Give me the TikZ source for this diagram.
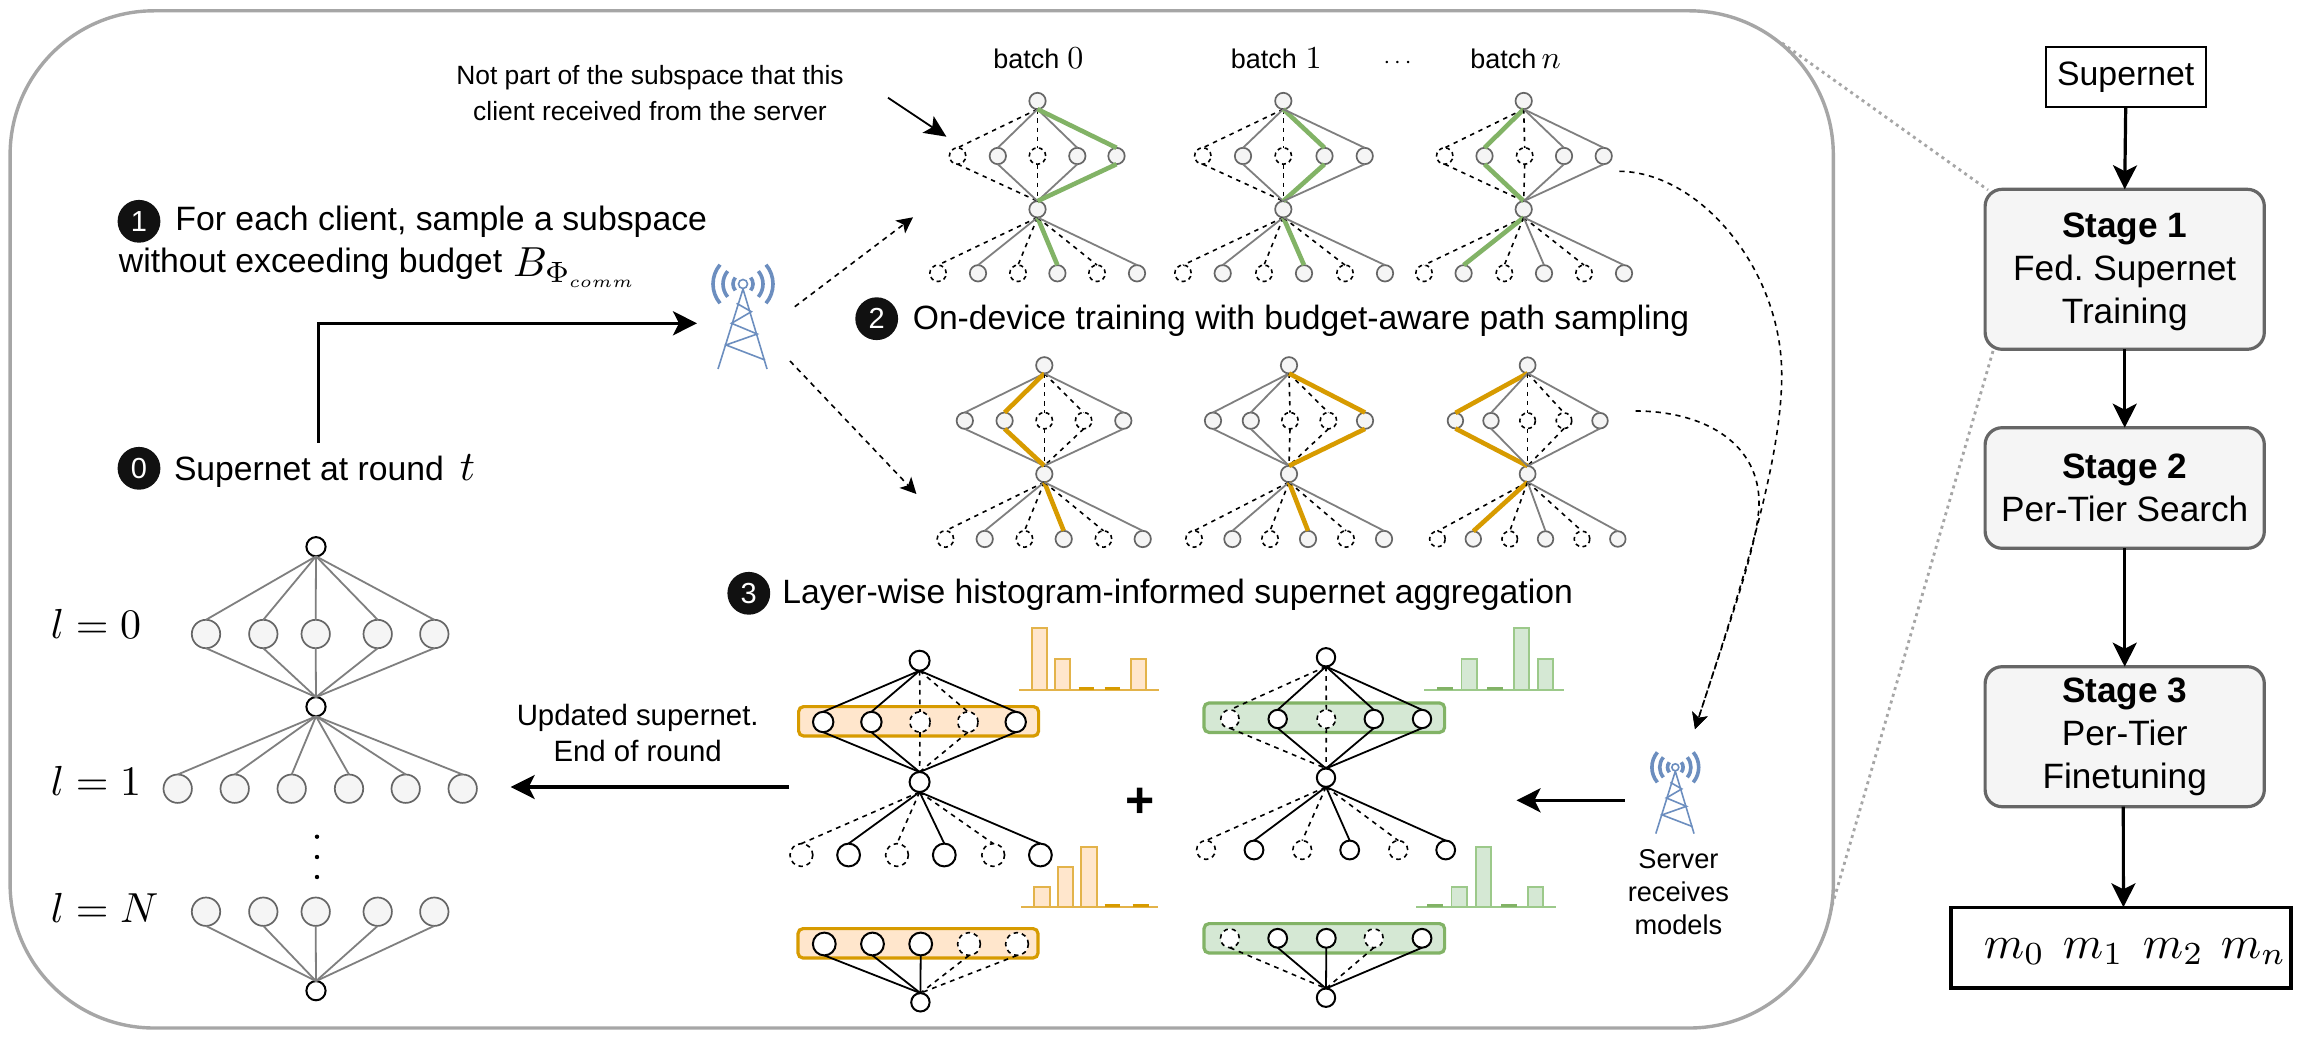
\documentclass[tikz,border=0pt]{standalone}
\usepackage[no-math]{fontspec}
\setmainfont{Liberation Sans}
\usetikzlibrary{arrows.meta}
\definecolor{gEdge}{HTML}{7F7F7F}
\definecolor{gNode}{HTML}{666666}
\definecolor{gFill}{HTML}{F5F5F5}
\definecolor{panelG}{HTML}{A6A6A6}
\definecolor{hlGreen}{HTML}{82B366}
\definecolor{hlOrange}{HTML}{D79B00}
\definecolor{fillGreen}{HTML}{D5E8D4}
\definecolor{fillOrange}{HTML}{FFE6CC}
\definecolor{barOrange}{HTML}{E3B34A}
\definecolor{barGreen}{HTML}{9CC98A}
\definecolor{towerB}{HTML}{6C8EBF}
\definecolor{ink}{HTML}{111111}
\tikzset{
  cnode/.style={circle,inner sep=0pt,outer sep=0pt},
  nds/.style={cnode,draw=gNode,fill=gFill,line width=0.85pt},
  ndg/.style={nds},
  ndo/.style={nds},
  ndd/.style={cnode,draw=black,fill=white,line width=0.8pt,dash pattern=on 2pt off 1.7pt},
  ndb/.style={cnode,draw=black,fill=white,line width=1pt},
  ndk/.style={cnode,draw=black,fill=white,line width=0.8pt,dash pattern=on 2.2pt off 2pt},
  eds/.style={draw=gEdge,line width=0.9pt},
  edd/.style={draw=black,line width=0.8pt,dash pattern=on 2.2pt off 2.4pt},
  edg/.style={draw=hlGreen,line width=2.3pt},
  edo/.style={draw=hlOrange,line width=2.3pt},
  edb/.style={draw=black,line width=0.9pt},
  edk/.style={draw=black,line width=0.8pt,dash pattern=on 2.4pt off 2.4pt},
  bigarr/.style={-{Stealth[length=12pt,width=12pt,inset=3pt]},line width=1.6pt,draw=black},
  dasharr/.style={-{Stealth[length=8pt,width=8pt,inset=2pt]},draw=black,line width=0.8pt,dash pattern=on 2.6pt off 2.4pt},
  txt/.style={inner sep=0pt,anchor=base west,text=black},
  ctxt/.style={inner sep=0pt,anchor=base,text=black},
  mth/.style={inner sep=0pt,anchor=base west,scale=#1},
  badge/.style={circle,fill=ink,text=white,inner sep=0pt,minimum size=21.4pt,font=\fontsize{14.5}{16}\selectfont},
  stagebox/.style={draw=gNode,fill=gFill,line width=1.6pt,rounded corners=8.5pt,inner sep=0pt,outer sep=0pt,align=center,font=\fontsize{17.6}{21.5}\selectfont},
  orangebox/.style={draw=hlOrange,fill=fillOrange,line width=1.6pt,rounded corners=2.5pt,inner sep=0pt,outer sep=0pt},
  greenbox/.style={draw=hlGreen,fill=fillGreen,line width=1.6pt,rounded corners=2.5pt,inner sep=0pt,outer sep=0pt},
  dotline/.style={draw=panelG,line width=1.4pt,dash pattern=on 1.5pt off 2pt},
  towerline/.style={draw=towerB,line width=0.8pt},
  towerwave/.style={draw=towerB,line width=1.8pt},
}
% a row of network nodes with edges to the hub above and/or below
\newcommand{\netrow}[6]{%
  \foreach \rowx/\rowt [count=\rowi] in {#6}{%
    \node[nd\rowt,minimum size=#3] (#1\rowi) at (\rowx,#2) {};
    \ifx\relax#4\relax\else\draw[ed\rowt] (#4.south) -- (#1\rowi.north);\fi
    \ifx\relax#5\relax\else\draw[ed\rowt] (#1\rowi.south) -- (#5.north);\fi
  }%
}
% small transmitter tower: dot at (x,y), scale s
\newcommand{\towerpic}[3]{%
  \begin{scope}[shift={(#1,#2)},scale=#3]
    \draw[towerline] (-25,85) -- (0,5) -- (24,85);
    \draw[towerline] (-6.4,19.3) -- (8.3,27.7) -- (-11.5,39.3) -- (14.2,50) -- (-17,61) -- (22,76);
    \draw[towerline,fill=white] (0,0) circle[radius=4.5];
    \foreach \a in {10,20,30}{%
      \draw[towerwave] (-40:\a) arc[start angle=-40,end angle=40,radius=\a];
      \draw[towerwave] (140:\a) arc[start angle=140,end angle=220,radius=\a];
    }
  \end{scope}%
}
% histogram: colour, x0, fill, x1, baseline, list of x1/x2/top
\newcommand{\histo}[6]{%
  \foreach \ba/\bb/\bt in {#6}{%
    \draw[draw=#1,fill=#3,line width=0.9pt] (\ba,#5) rectangle (\bb,\bt);
  }
  \draw[draw=#1,line width=1.1pt] (#2,#5) -- (#4,#5);
}
\begin{document}
\begin{tikzpicture}[x=0.5pt,y=-0.5pt]
\useasboundingbox (0,0) rectangle (2301,1043);
\fill[white] (0,0) rectangle (2301,1043);

% ---- panel and zoom lines
\node[draw=panelG,line width=1.7pt,rounded corners=72pt,inner sep=0pt,outer sep=0pt,minimum width=911.6pt,minimum height=508.6pt] (panel) at (921.7,519.4) {};
\coordinate (zoomA) at (1782,43);
\coordinate (zoomB) at (1988,190);
\coordinate (zoomC) at (1993,351);
\coordinate (zoomD) at (1830,913);
\draw[dotline] (zoomA) -- (zoomB);
\draw[dotline] (zoomC) -- (zoomD);

% ---- right column
\node[draw=black,line width=0.9pt,inner sep=0pt,outer sep=0pt,minimum width=80pt,minimum height=30pt,font=\fontsize{16.9}{20}\selectfont] (super) at (2125.7,77.3) {Supernet};
\node[stagebox,minimum width=139.6pt,minimum height=80pt] (s1) at (2124.7,269.3) {\rule{0pt}{14.8pt}\textbf{Stage 1}\\Fed.\ Supernet\\Training};
\node[stagebox,minimum width=139.6pt,minimum height=60.3pt] (s2) at (2124.7,488) {\textbf{Stage 2}\\Per-Tier Search};
\node[stagebox,minimum width=139.6pt,minimum height=70pt] (s3) at (2124.7,736.7) {\textbf{Stage 3}\\Per-Tier\\Finetuning};
\node[draw=black,line width=1.8pt,inner sep=0pt,outer sep=0pt,minimum width=170pt,minimum height=40.2pt] (mbox) at (2121,947.5) {};
\draw[bigarr] (super.south) -- (s1.north);
\draw[bigarr] (s1.south) -- (s2.north);
\draw[bigarr] (s2.south) -- (s3.north);
\draw[bigarr] ([xshift=-0.7pt]s3.south) -- ([xshift=1.2pt]mbox.north);
\node[mth=2.3] (m0) at (1983,958) {$m_0$};
\node[mth=2.3] (m1) at (2062,958) {$m_1$};
\node[mth=2.3] (m2) at (2142,958) {$m_2$};
\node[mth=2.3] (mn) at (2220,958) {$m_n$};

% ---- supernet at left
\node[ndb,minimum size=9.6pt] (sa) at (316,546.7) {};
\node[ndb,minimum size=9.6pt] (sb) at (316,706.7) {};
\node[ndb,minimum size=9.6pt] (sc) at (316,990.7) {};
\netrow{sr}{634}{14.2pt}{sa}{sb}{206/s,263.3/s,315.7/s,377.7/s,434.3/s}
\netrow{sq}{788.7}{14.2pt}{sb}{}{177.7/s,234.7/s,291.7/s,349/s,405.7/s,462.7/s}
\netrow{sp}{911.7}{14.2pt}{}{sc}{206/s,263.3/s,315.7/s,377.7/s,434.3/s}
\node[mth=2.1] (l0) at (50,638.3) {$l=0$};
\node[mth=2.1] (l1) at (50,795) {$l=1$};
\node[mth=2.1] (lN) at (50,922.7) {$l=N$};
\node[inner sep=0pt,fill=black,circle,minimum size=2.2pt] (vd1) at (317,836.7) {};
\node[inner sep=0pt,fill=black,circle,minimum size=2.2pt] (vd2) at (317,857) {};
\node[inner sep=0pt,fill=black,circle,minimum size=2.2pt] (vd3) at (317,877) {};

% ---- step texts
\node[badge] (b1) at (139,221.3) {1};
\node[txt,font=\fontsize{16.9}{20}\selectfont] (t1a) at (175,230.7) {For each client, sample a subspace};
\node[txt,font=\fontsize{16.9}{20}\selectfont] (t1b) at (118.5,272.7) {without exceeding budget};
\node[mth=2.1] (t1m) at (512.4,276.7) {$B_{\Phi_{\scalebox{0.8}{$\scriptscriptstyle comm$}}}$};
\node[badge] (b0) at (139,468.3) {0};
\node[txt,font=\fontsize{16.85}{20}\selectfont] (t0a) at (173.6,480) {Supernet at round};
\node[mth=2.1] (t0m) at (459,480) {$t$};
\node[badge] (b2) at (876.7,318.7) {2};
\node[txt,font=\fontsize{16.83}{20}\selectfont] (t2a) at (912.4,329.3) {On-device training with budget-aware path sampling};
\node[badge] (b3) at (748.8,593.3) {3};
\node[txt,font=\fontsize{16.85}{20}\selectfont] (t3a) at (782,603.3) {Layer-wise histogram-informed supernet aggregation};
\node[ctxt,font=\fontsize{13.2}{16}\selectfont] (note1) at (650,85) {Not part of the subspace that this};
\node[ctxt,font=\fontsize{13.2}{16}\selectfont] (note2) at (650,120.5) {client received from the server};
\node[ctxt,font=\fontsize{14.7}{17}\selectfont] (upd1) at (637.7,725) {Updated supernet.};
\node[ctxt,font=\fontsize{14.7}{17}\selectfont] (upd2) at (637.7,761) {End of round};
\node[ctxt,font=\fontsize{13.6}{16}\selectfont] (srv1) at (1678.4,868) {Server};
\node[ctxt,font=\fontsize{13.6}{16}\selectfont] (srv2) at (1678.4,901) {receives};
\node[ctxt,font=\fontsize{13.6}{16}\selectfont] (srv3) at (1678.4,934) {models};
\node[txt,font=\fontsize{13.5}{16}\selectfont] (bt0) at (993,68.3) {batch};
\node[mth=1.6] (bd0) at (1066.6,68.3) {$0$};
\node[txt,font=\fontsize{13.5}{16}\selectfont] (bt1) at (1230.5,68.3) {batch};
\node[mth=1.6] (bd1) at (1305,68.3) {$1$};
\node[txt,font=\fontsize{13.5}{16}\selectfont] (btn) at (1470,68.3) {batch};
\node[mth=1.6] (bdn) at (1541,68.3) {$n$};
\node[mth=1.2] (bdots) at (1383,68.3) {$\cdots$};

% ---- towers and big arrows
\towerpic{743}{284}{1}
\towerpic{1675.3}{767.3}{0.78}
\coordinate (elA) at (318.2,442.7);
\coordinate (elB) at (697,323.3);
\draw[bigarr] (elA) |- (elB);
\coordinate (retA) at (789,787);
\coordinate (retB) at (510.7,787);
\draw[bigarr] (retA) -- (retB);
\coordinate (srvA) at (1624.8,800.3);
\coordinate (srvB) at (1516.5,800.3);
\draw[bigarr] (srvA) -- (srvB);
\coordinate (noteA) at (888,97.7);
\coordinate (noteB) at (946.4,136.7);
\draw[-{Stealth[length=11pt,width=10pt,inset=2.5pt]},line width=0.9pt] (noteA) -- (noteB);
\coordinate (twA) at (794.8,306.7);
\coordinate (twB) at (913,217.3);
\draw[dasharr] (twA) -- (twB);
\coordinate (twC) at (790,361);
\coordinate (twD) at (916.4,494);
\draw[dasharr] (twC) -- (twD);
\coordinate (cvA) at (1619.3,171.3);
\coordinate (cvB) at (1635.7,411);
\coordinate (cvH) at (1695,729.2);
\draw[dasharr] (cvA) .. controls (1700,172) and (1782,270) .. (1781.7,375) .. controls (1782,470) and (1730,620) .. (cvH);
\draw[dasharr] (cvB) .. controls (1700,411) and (1757,440) .. (1759,500) .. controls (1760,540) and (1730,620) .. (cvH);

% ---- green mini nets
\node[nds,minimum size=8.2pt] (g0t) at (1037.5,101) {};
\node[nds,minimum size=8.2pt] (g0c) at (1037.5,209.3) {};
\netrow{g0m}{156}{8.2pt}{g0t}{g0c}{957.6/d,997.8/s,1037.5/d,1077.3/s,1116.5/g}
\netrow{g0b}{273.3}{8.2pt}{g0c}{}{938/d,978/s,1018/d,1057.4/g,1097/d,1137/s}
\node[nds,minimum size=8.2pt] (g1t) at (1283.3,101) {};
\node[nds,minimum size=8.2pt] (g1c) at (1283.3,209.3) {};
\netrow{g1m}{156}{8.2pt}{g1t}{g1c}{1202.8/d,1243/s,1283.3/d,1324.5/g,1364.7/s}
\netrow{g1b}{273.3}{8.2pt}{g1c}{}{1183/d,1222.7/s,1264/d,1304/g,1345/d,1385/s}
\node[nds,minimum size=8.2pt] (g2t) at (1523.7,101) {};
\node[nds,minimum size=8.2pt] (g2c) at (1523.7,209.3) {};
\netrow{g2m}{156}{8.2pt}{g2t}{g2c}{1444.7/d,1484.5/g,1524.7/d,1564/s,1603.7/s}
\netrow{g2b}{273.3}{8.2pt}{g2c}{}{1424/d,1463.6/g,1504.3/d,1544/s,1584/d,1624/s}

% ---- orange mini nets
\node[nds,minimum size=8.2pt] (o0t) at (1044.3,365.3) {};
\node[nds,minimum size=8.2pt] (o0c) at (1044.3,474) {};
\netrow{o0m}{420.7}{8.2pt}{o0t}{o0c}{964.8/s,1004.6/o,1044.3/d,1083.6/d,1123.3/s}
\netrow{o0b}{539}{8.2pt}{o0c}{}{945.4/d,984.7/s,1024.5/d,1063.7/o,1103.5/d,1142.7/s}
\node[nds,minimum size=8.2pt] (o1t) at (1289,365.3) {};
\node[nds,minimum size=8.2pt] (o1c) at (1289,474) {};
\netrow{o1m}{420.7}{8.2pt}{o1t}{o1c}{1213/s,1250.8/s,1290/d,1328.4/d,1365/o}
\netrow{o1b}{539}{8.2pt}{o1c}{}{1194/d,1232.4/s,1270/d,1308/o,1346/d,1384/s}
\node[nds,minimum size=8pt] (o2t) at (1527.6,365.3) {};
\node[nds,minimum size=8pt] (o2c) at (1527.6,474) {};
\netrow{o2m}{420.7}{7.8pt}{o2t}{o2c}{1455.4/o,1491/s,1527.6/d,1564/d,1600/s}
\netrow{o2b}{539}{7.8pt}{o2c}{}{1437.4/d,1473.3/o,1509.7/d,1545.5/s,1582/d,1617.8/s}

% ---- aggregated nets, orange
\node[orangebox,minimum width=120pt,minimum height=14.7pt] (ob1) at (918.6,721.3) {};
\node[orangebox,minimum width=120pt,minimum height=14.7pt] (ob2) at (918,943.3) {};
\node[ndb,minimum size=10pt] (at) at (919.6,660.7) {};
\node[ndb,minimum size=10pt] (ac) at (919.6,782) {};
\node[ndb,minimum size=9.2pt] (ae) at (920.4,1002.3) {};
\netrow{am}{722}{10.2pt}{at}{ac}{823.2/b,871.4/b,920/k,967.9/k,1015.7/b}
\netrow{ab}{855}{11.4pt}{ac}{}{801.4/k,848.6/b,897/k,944.3/b,993.2/k,1040.4/b}
\netrow{al}{944}{11.4pt}{}{ae}{824.3/b,872.5/b,920.7/b,969/k,1017/k}
\histo{barOrange}{1019}{fillOrange}{1159}{690.3}{1031.8/1047/628,1054.6/1070/659.3,1131/1146/659.3}
\draw[hlOrange,line width=1.5pt] (1078.6,688.5) -- (1094,688.5) (1104.6,688.5) -- (1120.4,688.5);
\histo{barOrange}{1021.4}{fillOrange}{1157.5}{907.3}{1034.3/1050/887,1057.9/1073.2/867,1081/1096.8/847}
\draw[hlOrange,line width=1.5pt] (1104.6,905.5) -- (1120.4,905.5) (1132.5,905.5) -- (1148.6,905.5);

% ---- aggregated nets, green
\node[greenbox,minimum width=120.3pt,minimum height=14.7pt] (gb1) at (1324.3,717.7) {};
\node[greenbox,minimum width=120.3pt,minimum height=14.7pt] (gb2) at (1324.3,938.3) {};
\node[ndb,minimum size=9.2pt] (ct) at (1326,657.3) {};
\node[ndb,minimum size=9.2pt] (cc) at (1326,777.7) {};
\node[ndb,minimum size=9.2pt] (ce) at (1326,997.7) {};
\netrow{cm}{719}{9.2pt}{ct}{cc}{1229.9/k,1277.7/b,1326.3/k,1373.8/b,1422/b}
\netrow{cb}{850}{9.4pt}{cc}{}{1206/k,1254/b,1302.2/k,1349.7/b,1398.3/k,1445.7/b}
\netrow{cl}{938.3}{9.4pt}{}{ce}{1229.9/k,1277.7/b,1326.3/b,1373.8/k,1422/b}
\histo{barGreen}{1424}{fillGreen}{1563.6}{690.3}{1461.4/1476.7/659.3,1513.8/1529.2/628,1538/1553/659.3}
\draw[hlGreen,line width=1.5pt] (1437.3,688.5) -- (1453.4,688.5) (1487.4,688.5) -- (1503,688.5);
\histo{barGreen}{1416}{fillGreen}{1556}{907}{1451.5/1466.8/887,1475.6/1491/847,1527.6/1543/887}
\draw[hlGreen,line width=1.5pt] (1427.4,905.2) -- (1443.4,905.2) (1501,905.2) -- (1516.5,905.2);

\node[inner sep=0pt,font=\fontsize{25}{28}\selectfont\bfseries] (plus) at (1140,802.5) {+};
\end{tikzpicture}
\end{document}
